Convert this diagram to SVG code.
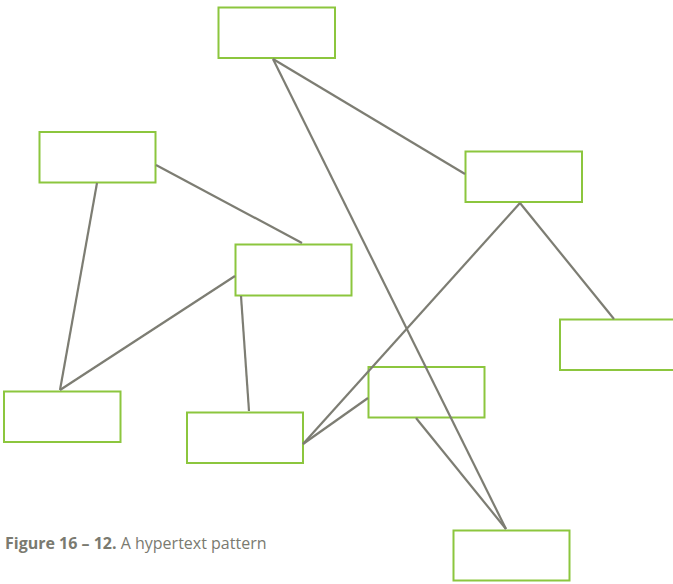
<svg xmlns="http://www.w3.org/2000/svg" width="673" height="584" viewBox="0 0 673 584">
<style>
.n{fill:none;stroke:#8cc63e;stroke-width:2}
.c line{stroke:#7d7d73;stroke-width:2.2;stroke-linecap:butt}
.cap{font-family:"Open Sans","Noto Sans",sans-serif;font-size:16px;fill:#7a7a70}
</style>
<rect width="673" height="584" fill="#fff"/>
<g id="n1"><rect class="n" x="218.5" y="7.5" width="116.5" height="50.5"/></g>
<g id="n2"><rect class="n" x="39.5" y="132" width="116" height="50.5"/></g>
<g id="n3"><rect class="n" x="465.5" y="151.5" width="116.5" height="50.5"/></g>
<g id="n4"><rect class="n" x="235.5" y="244.5" width="116" height="51"/></g>
<g id="n5"><rect class="n" x="560" y="319.5" width="120" height="50.5"/></g>
<g id="n6"><rect class="n" x="4" y="391.5" width="116.5" height="50.5"/></g>
<g id="n7"><rect class="n" x="187" y="412.5" width="116" height="50.5"/></g>
<g id="n8"><rect class="n" x="368.5" y="367" width="116" height="50.5"/></g>
<g id="n9"><rect class="n" x="453.5" y="530.5" width="116" height="50"/></g>
<g class="c" id="connectors">
<line x1="273" y1="59" x2="465" y2="174"/>
<line x1="273" y1="59" x2="506" y2="529"/>
<line x1="156" y1="165" x2="302" y2="243"/>
<line x1="97" y1="183" x2="60" y2="390"/>
<line x1="235" y1="276" x2="60" y2="390"/>
<line x1="241" y1="296" x2="249" y2="411"/>
<line x1="520" y1="203" x2="303" y2="444"/>
<line x1="520" y1="203" x2="614" y2="319"/>
<line x1="368" y1="398" x2="303" y2="444"/>
<line x1="416" y1="418" x2="506" y2="529"/>
</g>
<text class="cap" x="5" y="549"><tspan font-weight="bold">Figure 16 – 12.</tspan> A hypertext pattern</text>
</svg>
